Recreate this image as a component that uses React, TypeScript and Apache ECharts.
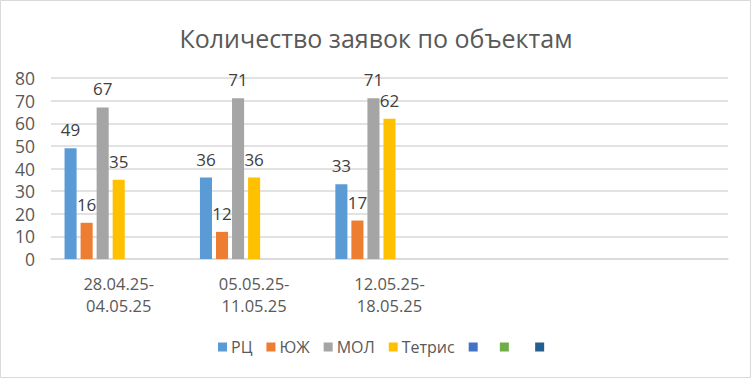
import React, { useEffect, useRef } from "react";
import * as echarts from "echarts";

const categories = ["28.04.25-\n04.05.25", "05.05.25-\n11.05.25", "12.05.25-\n18.05.25", "", ""];
const seriesNames = ["РЦ", "ЮЖ", "МОЛ", "Тетрис", " ", "  ", "   "];
const rc = [49, 36, 33];
const yuzh = [16, 12, 17];
const mol = [67, 71, 71];
const tetris = [35, 36, 62];
const empty1: number[] = [];
const empty2: number[] = [];
const empty3: number[] = [];
const colors = ["#5B9BD5", "#ED7D31", "#A5A5A5", "#FFC000", "#4472C4", "#70AD47", "#255E91"];
const yTicks = { min: 0, max: 80, interval: 10 };

const FONT = "'Open Sans', 'Liberation Sans', sans-serif";

export default function App() {
  const ref = useRef<HTMLDivElement>(null);
  useEffect(() => {
    if (!ref.current) return;
    const chart = echarts.init(ref.current, null, { renderer: "svg" });
    const values = [rc, yuzh, mol, tetris, empty1, empty2, empty3];
    chart.setOption({
      animation: false,
      backgroundColor: "#ffffff",
      color: colors,
      textStyle: { fontFamily: FONT },
      title: {
        text: "Количество заявок по объектам",
        left: "center",
        top: 20,
        textStyle: { fontFamily: FONT, fontSize: 25, fontWeight: "normal", color: "#595959" },
      },
      graphic: [
        {
          type: "rect",
          shape: { x: 0.5, y: 0.5, width: 750, height: 377 },
          style: { fill: "none", stroke: "#D9D9D9", lineWidth: 1 },
          silent: true,
          z: -1,
        },
      ],
      legend: {
        bottom: 19,
        left: 213,
        icon: "rect",
        itemWidth: 9,
        itemHeight: 9,
        itemGap: 14,
        data: seriesNames,
        textStyle: { fontFamily: FONT, fontSize: 16, color: "#595959", padding: [0, 0, 0, -1] },
      },
      grid: { left: 51, right: 24, top: 78, bottom: 120, containLabel: false },
      xAxis: {
        type: "category",
        data: categories,
        axisLine: { lineStyle: { color: "#D9D9D9", width: 1.5 } },
        axisTick: { show: false },
        axisLabel: {
          fontFamily: FONT,
          fontSize: 16.5,
          color: "#595959",
          margin: 13,
          lineHeight: 22,
          interval: 0,
        },
      },
      yAxis: {
        type: "value",
        min: yTicks.min,
        max: yTicks.max,
        interval: yTicks.interval,
        axisLine: { show: false },
        axisTick: { show: false },
        splitLine: { lineStyle: { color: "#D9D9D9", width: 1.5 } },
        axisLabel: { fontFamily: FONT, fontSize: 17.5, color: "#595959", margin: 16 },
      },
      series: seriesNames.map((name, i) => ({
        name,
        type: "bar",
        data: values[i],
        barGap: "33%",
        barCategoryGap: "20%",
        label: {
          show: true,
          position: "top",
          distance: 10,
          fontFamily: FONT,
          fontSize: 17,
          color: "#404040",
        },
      })),
    });
    return () => chart.dispose();
  }, []);
  return <div ref={ref} style={{ width: 752, height: 379, position: "absolute", left: 0, top: 0 }} />;
}
